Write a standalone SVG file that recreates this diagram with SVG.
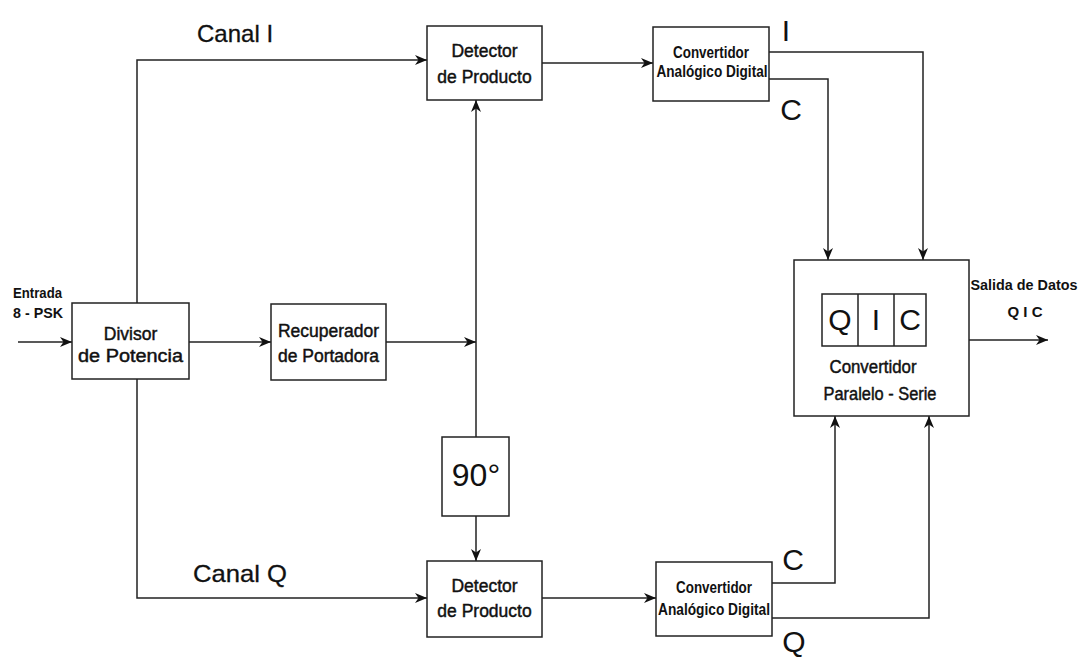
<svg xmlns="http://www.w3.org/2000/svg" width="1081" height="660" viewBox="0 0 1081 660">
<defs>
<marker id="ah" viewBox="0 0 12 10" refX="12" refY="5" markerWidth="12" markerHeight="10" markerUnits="userSpaceOnUse" orient="auto">
<path d="M0,0 L12,5 L0,10 L3.5,5 Z" fill="#111"/>
</marker>
<style>
.box{fill:#fff;stroke:#222;stroke-width:1.5}
.ln{fill:none;stroke:#222;stroke-width:1.5}
.ar{fill:none;stroke:#222;stroke-width:1.5;marker-end:url(#ah)}
text{font-family:"Liberation Sans",Arial,sans-serif;fill:#111}
.t{font-size:17.5px;stroke:#111;stroke-width:0.45;text-anchor:middle}
.s{font-size:16px;font-weight:bold;text-anchor:middle}
.big{font-size:30px}
.ch{font-size:24px;stroke:#111;stroke-width:0.3}
</style>
</defs>
<rect width="1081" height="660" fill="#fff"/>
<g id="connectors">
<path class="ar" d="M18,342 H72"/>
<path class="ar" d="M189,342 H271"/>
<path class="ar" d="M137,303 V60 H427"/>
<path class="ar" d="M137,379 V598 H427"/>
<path class="ar" d="M386,342 H476"/>
<path class="ar" d="M476,437 V100"/>
<path class="ar" d="M476,516 V561"/>
<path class="ar" d="M542,63 H653"/>
<path class="ar" d="M542,598 H656"/>
<path class="ar" d="M769,52 H923 V260"/>
<path class="ar" d="M769,79 H828 V260"/>
<path class="ar" d="M772,583 H835 V416"/>
<path class="ar" d="M772,618 H929 V416"/>
<path class="ar" d="M969,340 H1048"/>
</g>
<g id="labels">
<text x="13" y="298" style="font-size:15px;font-weight:bold" textLength="49" lengthAdjust="spacingAndGlyphs">Entrada</text>
<text x="13" y="318" style="font-size:15px;font-weight:bold" textLength="50" lengthAdjust="spacingAndGlyphs">8 - PSK</text>
<text class="ch" x="197" y="42">Canal I</text>
<text class="ch" x="193" y="582" textLength="94" lengthAdjust="spacingAndGlyphs">Canal Q</text>
<text class="big" x="786" y="41" text-anchor="middle">I</text>
<text class="big" x="791" y="120" text-anchor="middle">C</text>
<text class="big" x="793" y="570" text-anchor="middle">C</text>
<text class="big" x="794" y="652" text-anchor="middle">Q</text>
<text x="1024" y="290" style="font-size:15px;font-weight:bold" text-anchor="middle" textLength="107" lengthAdjust="spacingAndGlyphs">Salida de Datos</text>
<text x="1025" y="317" style="font-size:15px;font-weight:bold" text-anchor="middle">Q I C</text>
</g>
<g id="divisor">
<rect class="box" x="72" y="303" width="117" height="76"/>
<text class="t" x="130.5" y="340">Divisor</text>
<text class="t" x="130.5" y="362" textLength="105" lengthAdjust="spacingAndGlyphs">de Potencia</text>
</g>
<g id="recuperador">
<rect class="box" x="271" y="304" width="115" height="76"/>
<text class="t" x="328.5" y="337">Recuperador</text>
<text class="t" x="328.5" y="362">de Portadora</text>
</g>
<g id="detector-i">
<rect class="box" x="427" y="26" width="115" height="74"/>
<text class="t" x="484.5" y="57">Detector</text>
<text class="t" x="484.5" y="83">de Producto</text>
</g>
<g id="detector-q">
<rect class="box" x="427" y="561" width="115" height="76"/>
<text class="t" x="484.5" y="592">Detector</text>
<text class="t" x="484.5" y="617">de Producto</text>
</g>
<g id="fase90">
<rect class="box" x="442" y="437" width="67" height="79"/>
<text x="476" y="486" style="font-size:32px" text-anchor="middle">90°</text>
</g>
<g id="adc-i">
<rect class="box" x="653" y="27" width="116" height="74"/>
<text class="s" x="711" y="58" textLength="76" lengthAdjust="spacingAndGlyphs">Convertidor</text>
<text class="s" x="712" y="77" textLength="111" lengthAdjust="spacingAndGlyphs">Analógico Digital</text>
</g>
<g id="adc-q">
<rect class="box" x="656" y="562" width="116" height="74"/>
<text class="s" x="714" y="593" textLength="76" lengthAdjust="spacingAndGlyphs">Convertidor</text>
<text class="s" x="714" y="615" textLength="112" lengthAdjust="spacingAndGlyphs">Analógico Digital</text>
</g>
<g id="paralelo-serie">
<rect class="box" x="794" y="260" width="175" height="156"/>
<rect class="box" x="822" y="294" width="104" height="52"/>
<path class="ln" d="M858,294 V346 M894,294 V346"/>
<text class="big" x="840" y="330" text-anchor="middle">Q</text>
<text class="big" x="876" y="330" text-anchor="middle">I</text>
<text class="big" x="910" y="330" text-anchor="middle">C</text>
<text class="t" x="873" y="373" textLength="87" lengthAdjust="spacingAndGlyphs">Convertidor</text>
<text class="t" x="880" y="400" textLength="113" lengthAdjust="spacingAndGlyphs">Paralelo - Serie</text>
</g>
</svg>
